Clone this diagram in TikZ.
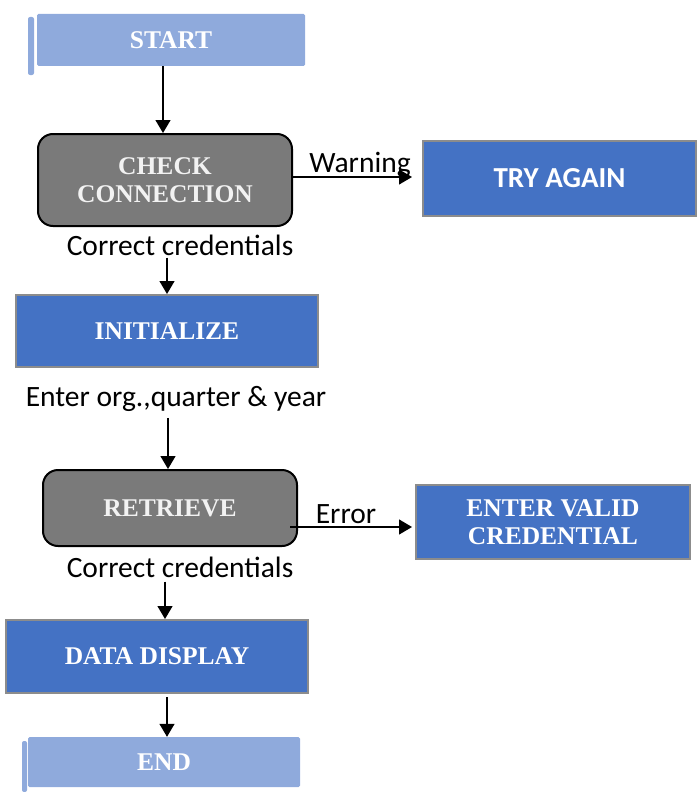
\documentclass[tikz,border=0pt]{standalone}
\usepackage{fontspec}
\setmainfont{Liberation Serif}
\newfontfamily\calfont{Carlito}
\usetikzlibrary{arrows.meta,calc}
\definecolor{lightblue}{HTML}{8FAADC}
\definecolor{midblue}{HTML}{4472C4}
\definecolor{boxgray}{HTML}{7A7A7A}
\definecolor{edgegray}{HTML}{8C8C8C}
\begin{document}
\begin{tikzpicture}[x=1pt,y=-1pt,
  boxtext/.style={font=\fontsize{25.5}{28}\selectfont\bfseries, text=white, align=center, inner sep=0pt},
  termbox/.style={boxtext, fill=lightblue, draw=none, rounded corners=1.5pt},
  procbox/.style={boxtext, fill=midblue, draw=edgegray, line width=2pt},
  decbox/.style={boxtext, fill=boxgray, draw=black, line width=2pt, rounded corners=15pt, text=white!95!black},
  lbl/.style={font=\calfont\fontsize{29.5}{34}\selectfont, inner sep=0pt},
  arr/.style={line width=1.3pt, -{Triangle[length=13pt,width=15pt]}},
  plainline/.style={line width=1.3pt}]
\useasboundingbox (0,0) rectangle (697,792);

% side strips of the terminal boxes
\fill[lightblue, rounded corners=2pt] (28,17) rectangle (34,75);
\fill[lightblue, rounded corners=2pt] (22,741) rectangle (27,792);

\node[termbox, minimum width=268pt, minimum height=52pt] (start) at (171,40) {START};
\node[decbox, minimum width=254pt, minimum height=92pt] (check) at (165,180) {CHECK\\CONNECTION};
\node[procbox, font=\calfont\fontsize{29}{34}\selectfont\bfseries, minimum width=273pt, minimum height=75pt] (try) at (559.5,178.5) {TRY AGAIN};
\node[procbox, minimum width=302pt, minimum height=72pt] (init) at (167,331) {INITIALIZE};
\node[decbox, minimum width=254pt, minimum height=76pt] (retrieve) at (170,508) {RETRIEVE};
\node[procbox, minimum width=274pt, minimum height=74pt] (evc) at (553,522) {ENTER VALID\\CREDENTIAL};
\node[procbox, minimum width=302pt, minimum height=73pt] (data) at (157,656.5) {DATA DISPLAY};
\node[termbox, minimum width=272pt, minimum height=50pt] (endn) at (164,762) {END};

\node[lbl] (warn) at (360,165) {Warning};
\node[lbl] (cc1) at (180,245) {Correct credentials};
\node[lbl] (enter) at (176,399) {Enter org.,quarter \& year};
\node[lbl] (err) at (346,514) {Error};
\node[lbl] (cc2) at (180,567) {Correct credentials};

\draw[arr] ($(start.south)+(-8,0)$) -- ($(check.north)+(-2,0)$);
\draw[arr] ($(check.east)+(0,-3)$) -- ($(check.east -| try.west)+(-10,-3)$);
\draw[arr] ($(cc1.south)+(-13,2)$) -- (init.north);
\draw[arr] ($(enter.south)+(-8,6)$) -- ($(retrieve.north)+(-2,0)$);
\draw[arr] ($(retrieve.east)+(-8,19)$) -- ($(retrieve.east -| evc.west)+(-3,19)$);
\draw[arr] ($(cc2.south)+(-15,4)$) -- ($(data.north)+(8,0)$);
\draw[arr] ($(data.south)+(10,3)$) -- ($(endn.north)+(3,0)$);
\end{tikzpicture}
\end{document}
